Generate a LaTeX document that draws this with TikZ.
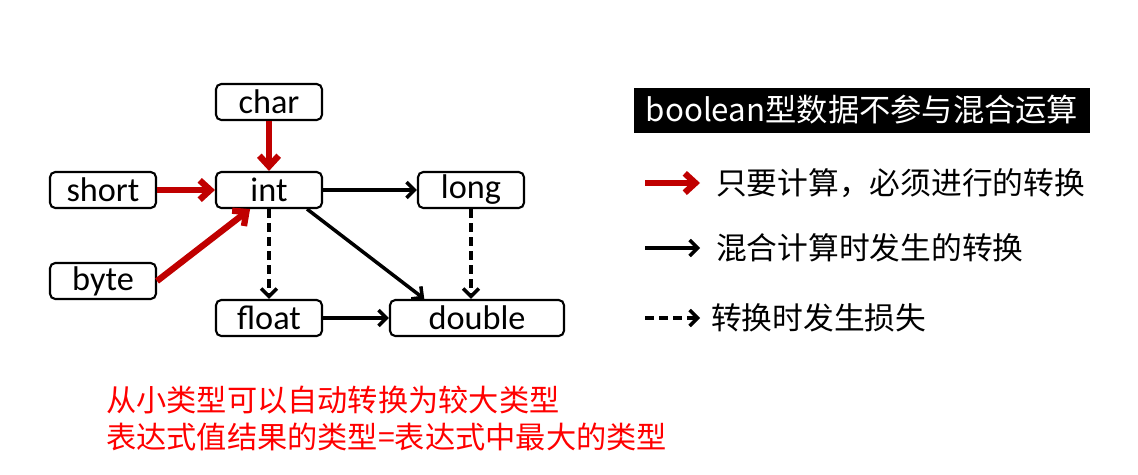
\documentclass[tikz,border=0pt]{standalone}
\usepackage{fontspec}
\setmainfont{Carlito}
\newfontfamily\cjk{Noto Sans CJK SC}
\usetikzlibrary{arrows.meta}
\begin{document}
\begin{tikzpicture}[x=0.02cm,y=-0.02cm,
  tbox/.style={draw,line width=1.2pt,rounded corners=3pt,minimum height=36*0.02cm,minimum width=106*0.02cm,inner sep=0pt,font=\fontsize{19.5}{22}\selectfont},
  redarr/.style={draw={rgb,255:red,192;green,0;blue,0},line width=3.6pt,-{Straight Barb[length=6pt,width=11pt,line width=3.6pt]}},
  blkarr/.style={line width=2pt,-{Straight Barb[length=4.5pt,width=9pt,line width=2pt]}},
  dsharr/.style={blkarr,dash pattern=on 5pt off 3pt},
  lgd/.style={anchor=west,font=\cjk\fontsize{17.5}{20}\selectfont},
  rtext/.style={anchor=west,text=red,font=\cjk\fontsize{17.2}{20}\selectfont}]
\useasboundingbox (0,0) rectangle (1138,474);
\node[tbox] (char) at (269,102) {char};
\node[tbox] (short) at (103,190) {short};
\node[tbox] (int) at (269,190) {int};
\node[tbox] (long) at (471,190) {long};
\node[tbox] (byte) at (103,281) {byte};
\node[tbox] (float) at (269,318) {float};
\node[tbox,minimum width=174*0.02cm] (double) at (477,318) {double};
\draw[redarr] (char) -- (int);
\draw[redarr] (short) -- (int);
\draw[redarr] (byte.east) -- ([xshift=20]int.south west);
\draw[blkarr] (int.south east) ++(-16,0) coordinate (ise) -- ([xshift=-30]double.north);
\draw[blkarr] (int) -- (long);
\draw[blkarr] (float) -- (double);
\draw[dsharr] (int) -- (float);
\draw[dsharr] (long) -- (long|-double.north);
\node[fill=black,text=white,minimum width=456*0.02cm,minimum height=45*0.02cm,inner sep=0pt,font=\cjk\fontsize{17.8}{20}\selectfont] (title) at (862,110) {boolean型数据不参与混合运算};
\coordinate (r1) at (645,183); \coordinate (r2) at (700,183);
\draw[redarr] (r1) -- (r2);
\node[lgd] (t1) at (710,183) {只要计算，必须进行的转换};
\coordinate (b1) at (645,248); \coordinate (b2) at (700,248);
\draw[blkarr] (b1) -- (b2);
\node[lgd] (t2) at (710,248) {混合计算时发生的转换};
\coordinate (d1) at (645,318); \coordinate (d2) at (700,318);
\draw[dsharr] (d1) -- (d2);
\node[lgd] (t3) at (705,318) {转换时发生损失};
\node[rtext] (n1) at (100,400) {从小类型可以自动转换为较大类型};
\node[rtext] (n2) at (100,437) {表达式值结果的类型=表达式中最大的类型};
\end{tikzpicture}
\end{document}
